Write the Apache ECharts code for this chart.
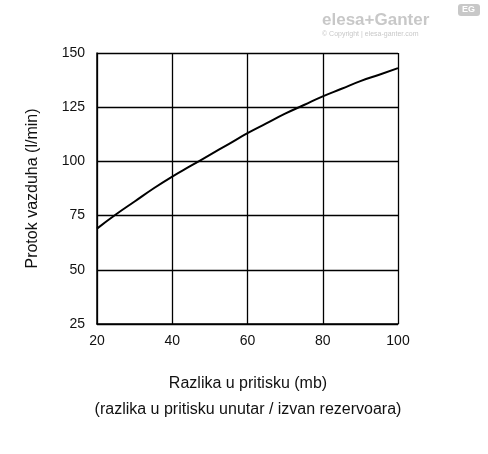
<!DOCTYPE html>
<html><head><meta charset="utf-8">
<script src="https://cdn.jsdelivr.net/npm/echarts@6/dist/echarts.min.js"></script>
<style>body{margin:0;background:#fff}#main{width:488px;height:454px}</style>
</head><body><div id="main"></div>
<script>
// values
const pressure = [20, 25, 30, 35, 40, 45, 50, 55, 60, 65, 70, 75, 80, 85, 90, 95, 100];
const flow = [69, 75.5, 81.5, 87.5, 93, 98, 103, 108, 113, 117.5, 122, 126, 130, 133.5, 137, 140, 143];

let chart = echarts.init(document.getElementById('main'));
chart.setOption({
  animation: false,
  grid: { left: 97, top: 53, width: 301, height: 271 },
  graphic: [
    { type: 'text', x: 322, y: 12, style: { text: 'elesa+Ganter', font: 'bold 17px Arial', fill: '#c8c8c8' } },
    { type: 'text', x: 322, y: 31, style: { text: '© Copyright | elesa-ganter.com', font: '7px Arial', fill: '#c8c8c8' } },
    { type: 'rect', x: 458, y: 4, shape: { width: 22, height: 12, r: 3 }, style: { fill: '#c8c8c8' } },
    { type: 'text', x: 462, y: 5, style: { text: 'EG', font: 'bold 9px Arial', fill: '#fff' } },
    { type: 'text', x: 248, y: 376, style: { text: 'Razlika u pritisku (mb)', font: '16px Arial', fill: '#111', textAlign: 'center' } },
    { type: 'text', x: 248, y: 402, style: { text: '(razlika u pritisku unutar / izvan rezervoara)', font: '16px Arial', fill: '#111', textAlign: 'center' } }
  ],
  xAxis: {
    type: 'value', min: 20, max: 100, interval: 20,
    axisLine: { lineStyle: { color: '#000', width: 1.5 } },
    axisTick: { show: false },
    axisLabel: { color: '#111', fontSize: 14, margin: 10, fontFamily: 'Arial' },
    splitLine: { lineStyle: { color: '#000', width: 1.3 } }
  },
  yAxis: {
    type: 'value', min: 25, max: 150, interval: 25,
    name: 'Protok vazduha (l/min)', nameLocation: 'middle', nameGap: 56,
    nameTextStyle: { color: '#111', fontSize: 16, fontFamily: 'Arial' },
    axisLine: { show: true, lineStyle: { color: '#000', width: 1.5 } },
    axisTick: { show: false },
    axisLabel: { color: '#111', fontSize: 14, margin: 12, fontFamily: 'Arial' },
    splitLine: { lineStyle: { color: '#000', width: 1.3 } }
  },
  series: [{
    type: 'line', smooth: true, symbol: 'none',
    data: pressure.map((p, i) => [p, flow[i]]),
    lineStyle: { color: '#000', width: 2 }
  }]
});
</script></body></html>
